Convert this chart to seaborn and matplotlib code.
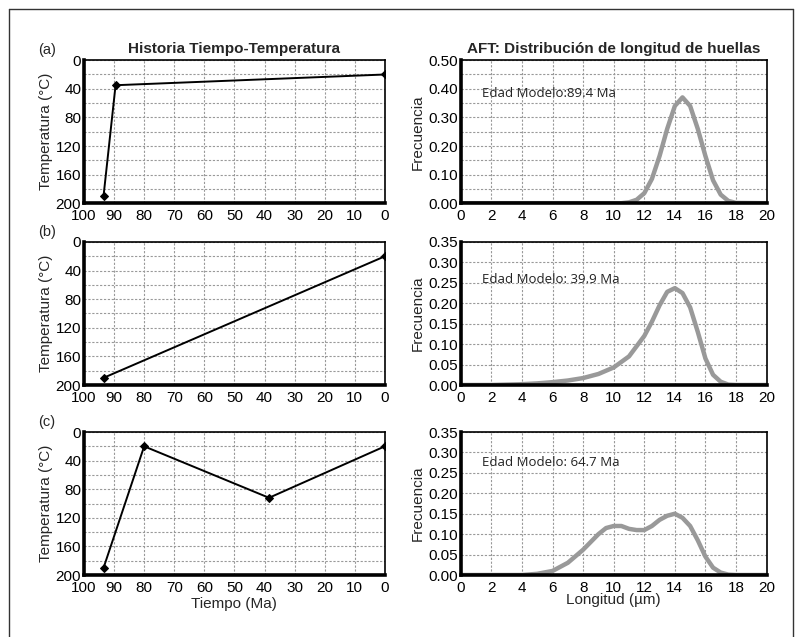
import numpy as np
import pandas as pd
import matplotlib
matplotlib.use("Agg")
import matplotlib.pyplot as plt
from matplotlib.ticker import MultipleLocator, FormatStrFormatter
from matplotlib.lines import Line2D
import seaborn as sns

# Time-temperature paths (Ma, °C)
tiempo_a = [93.5, 89.5, 0]
temp_a = [190, 35, 20]
tiempo_b = [93.5, 0]
temp_b = [190, 20]
tiempo_c = [93.5, 80, 38.5, 0]
temp_c = [190, 20, 92, 20]

# Track length distributions (µm, frequency)
long_a = [0, 2, 4, 6, 8, 10, 10.5, 11, 11.5, 12, 12.5, 13, 13.5, 14, 14.5, 15, 15.5, 16, 16.5, 17, 17.5, 18, 20]
frec_a = [0, 0, 0, 0, 0, 0, 0.0, 0.003, 0.012, 0.035, 0.085, 0.165, 0.26, 0.34, 0.37, 0.34, 0.26, 0.165, 0.08, 0.03, 0.008, 0.001, 0]
long_b = [0, 2, 3, 4, 5, 6, 7, 8, 9, 10, 11, 12, 12.5, 13, 13.5, 14, 14.5, 15, 15.5, 16, 16.5, 17, 17.5, 18, 20]
frec_b = [0, 0, 0.001, 0.002, 0.004, 0.007, 0.011, 0.017, 0.027, 0.043, 0.07, 0.12, 0.155, 0.195, 0.228, 0.237, 0.225, 0.19, 0.13, 0.065, 0.025, 0.008, 0.001, 0, 0]
long_c = [0, 2, 4, 5, 6, 7, 8, 9, 9.5, 10, 10.5, 11, 11.5, 12, 12.5, 13, 13.5, 14, 14.5, 15, 15.5, 16, 16.5, 17, 17.5, 18, 20]
frec_c = [0, 0, 0, 0.003, 0.01, 0.03, 0.062, 0.1, 0.115, 0.12, 0.12, 0.113, 0.11, 0.11, 0.12, 0.135, 0.145, 0.15, 0.14, 0.12, 0.085, 0.045, 0.018, 0.006, 0.001, 0, 0]

edades = ["Edad Modelo:89.4 Ma", "Edad Modelo: 39.9 Ma", "Edad Modelo: 64.7 Ma"]
edad_y = [0.385, 0.257, 0.275]
letras = ["(a)", "(b)", "(c)"]

sns.set_style("white")
plt.rcParams["font.family"] = ["Liberation Sans", "DejaVu Sans"]

fig = plt.figure(figsize=(7.96, 6.37), dpi=100)

# outer frame (open at the bottom)
x0, x1, ytop = 9 / 796, 793 / 796, 1 - 9 / 637
for xs, ys in [([x0, x0], [0, ytop]), ([x0, x1], [ytop, ytop]), ([x1, x1], [ytop, 0])]:
    fig.add_artist(Line2D(xs, ys, transform=fig.transFigure, color="#333333", linewidth=1.0))

bottoms = [0.681, 0.3956, 0.0973]
height = 0.2245
paths = [(tiempo_a, temp_a), (tiempo_b, temp_b), (tiempo_c, temp_c)]
dists = [(long_a, frec_a), (long_b, frec_b), (long_c, frec_c)]
ymax_r = [0.5, 0.35, 0.35]

grid_kw = dict(color="#999999", linestyle=(0, (2, 1.5)), linewidth=0.8)


def style_axes(ax):
    for s in ["left", "bottom"]:
        ax.spines[s].set_linewidth(2.6)
        ax.spines[s].set_color("black")
    for s in ["top", "right"]:
        ax.spines[s].set_linewidth(1.2)
        ax.spines[s].set_color("black")
    ax.tick_params(axis="both", which="major", labelsize=11, length=3, width=1,
                   direction="in", colors="black")
    ax.tick_params(axis="x", which="major", pad=4)
    ax.tick_params(axis="y", which="major", pad=2)
    ax.tick_params(axis="both", which="minor", length=2, direction="in")
    ax.grid(True, which="both", **grid_kw)
    ax.set_axisbelow(True)


for i in range(3):
    # left: time-temperature history
    ax = fig.add_axes([0.1055, bottoms[i], 0.378, height])
    df = pd.DataFrame({"t": paths[i][0], "T": paths[i][1]})
    sns.lineplot(data=df, x="t", y="T", ax=ax, color="black", linewidth=1.4,
                 marker="D", markersize=4.5, markeredgecolor="black", sort=False)
    ax.set_xlim(100, 0)
    ax.set_ylim(200, 0)
    ax.xaxis.set_major_locator(MultipleLocator(10))
    ax.yaxis.set_major_locator(MultipleLocator(40))
    ax.yaxis.set_minor_locator(MultipleLocator(20))
    style_axes(ax)
    ax.set_ylabel("Temperatura (°C)", fontsize=11, labelpad=2)
    ax.set_xlabel("Tiempo (Ma)" if i == 2 else "", fontsize=11, labelpad=2)
    fig.text(0.048, bottoms[i] + height + 0.005, letras[i], fontsize=10.5,
             ha="left", va="bottom")
    if i == 0:
        ax.set_title("Historia Tiempo-Temperatura", fontsize=11, fontweight="bold", pad=5)

    # right: track length distribution
    ax2 = fig.add_axes([0.579, bottoms[i], 0.384, height])
    df2 = pd.DataFrame({"L": dists[i][0], "f": dists[i][1]})
    sns.lineplot(data=df2, x="L", y="f", ax=ax2, color="#999999", linewidth=3.2)
    ax2.set_xlim(0, 20)
    ax2.set_ylim(0, ymax_r[i])
    ax2.xaxis.set_major_locator(MultipleLocator(2))
    if i == 0:
        ax2.yaxis.set_major_locator(MultipleLocator(0.1))
        ax2.yaxis.set_minor_locator(MultipleLocator(0.05))
    else:
        ax2.yaxis.set_major_locator(MultipleLocator(0.05))
    ax2.yaxis.set_major_formatter(FormatStrFormatter("%.2f"))
    style_axes(ax2)
    ax2.set_ylabel("Frecuencia", fontsize=11, labelpad=3)
    ax2.set_xlabel("Longitud (µm)" if i == 2 else "", fontsize=11, labelpad=-1)
    ax2.text(1.35, edad_y[i], edades[i], fontsize=9.5, va="center", ha="left",
             family=["Open Sans", "DejaVu Sans"], color="#222222")
    if i == 0:
        ax2.set_title("AFT: Distribución de longitud de huellas", fontsize=11,
                      fontweight="bold", pad=5)

fig.savefig("out.png", dpi=100)
